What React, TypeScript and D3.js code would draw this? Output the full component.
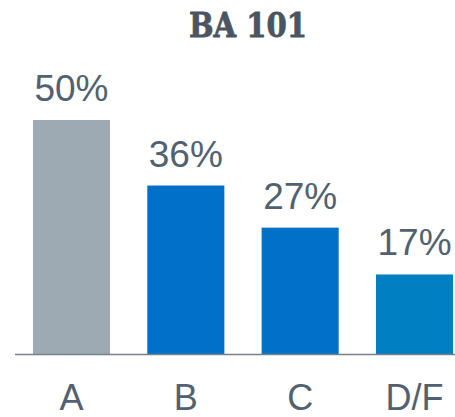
import React from "react";
import * as d3 from "d3";

const categories = ["A", "B", "C", "D/F"];
const values = [50, 36, 27, 17];
const barColors = ["#9eaab3", "#0070c9", "#0070c9", "#0080c2"];
const title = "BA 101";

const W = 455;
const H = 417;

export default function App() {
  const x = d3
    .scaleBand<string>()
    .domain(categories)
    .range([15, 471])
    .paddingInner(0.326)
    .paddingOuter(0.157);
  const y = d3.scaleLinear().domain([0, 50]).range([354, 120]);
  const textColor = "#52616f";
  return (
    <svg
      width={W}
      height={H}
      style={{ position: "absolute", left: 0, top: 0 }}
    >
      <rect width={W} height={H} fill="#ffffff" />
      <text
        x={248}
        y={36.5}
        textAnchor="middle"
        fontFamily="DejaVu Serif"
        fontWeight="bold"
        fontSize={33}
        textLength={118}
        lengthAdjust="spacingAndGlyphs"
        fill="#4b5561"
        stroke="#4b5561"
        strokeWidth={0.8}
      >
        {title}
      </text>
      {categories.map((c, i) => (
        <g key={c}>
          <rect
            x={x(c)}
            y={y(values[i])}
            width={x.bandwidth()}
            height={y(0) - y(values[i])}
            fill={barColors[i]}
          />
          <text
            x={(x(c) as number) + x.bandwidth() / 2}
            y={y(values[i]) - 19}
            textAnchor="middle"
            fontFamily="Liberation Sans, Arial, sans-serif"
            fontSize={37}
            fill={textColor}
          >
            {values[i]}%
          </text>
          <text
            x={(x(c) as number) + x.bandwidth() / 2}
            y={410}
            textAnchor="middle"
            fontFamily="Liberation Sans, Arial, sans-serif"
            fontSize={36}
            fill={textColor}
          >
            {c}
          </text>
        </g>
      ))}
      <line
        x1={15}
        x2={455}
        y1={y(0) + 0.5}
        y2={y(0) + 0.5}
        stroke="#76818c"
        strokeWidth={1.5}
      />
    </svg>
  );
}
